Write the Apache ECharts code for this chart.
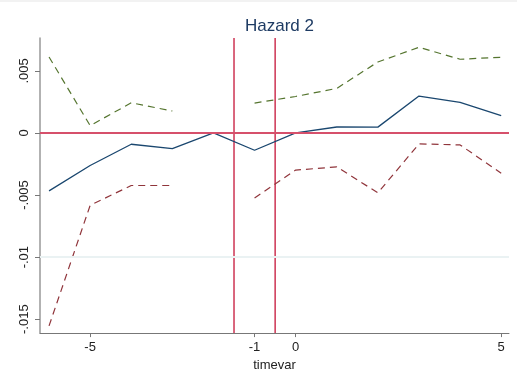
<!DOCTYPE html>
<html>
<head>
<meta charset="utf-8">
<script src="https://cdn.jsdelivr.net/npm/echarts@6/dist/echarts.min.js"></script>
<style>html,body{margin:0;padding:0;background:#fff;}#c{width:532px;height:377px;}</style>
</head>
<body>
<div id="c"></div>
<script>
const timevar = [-6, -5, -4, -3, -2, -1, 0, 1, 2, 3, 4, 5];
const estimate = [-0.00466, -0.00262, -0.00091, -0.00126, 0.0, -0.00139, 0.0, 0.00048, 0.00047, 0.00297, 0.00246, 0.00139];
const upperCI = [0.00612, 0.00059, 0.00243, 0.00177, null, 0.00241, 0.00294, 0.00359, 0.00572, 0.0069, 0.00594, 0.0061];
const lowerCI = [-0.01554, -0.00583, -0.00423, -0.00423, null, -0.00524, -0.00299, -0.00273, -0.00482, -0.00088, -0.00096, -0.00324];
const xTicks = [-5, -1, 0, 5];
const yTicks = [-0.015, -0.01, -0.005, 0, 0.005];
const yTickLabels = ['-.015', '-.01', '-.005', '0', '.005'];
const vLines = [-1.5, -0.5];
const title = 'Hazard 2';
const xName = 'timevar';

const yMin = -0.01612, yMax = 0.00765;
const pair = arr => timevar.map((t, i) => [t, arr[i]]);
const font = 'Liberation Sans, Arial, sans-serif';

const vSeries = vLines.map(v => ({
  type: 'line', data: [[v, yMin], [v, yMax]], symbol: 'none', silent: true,
  lineStyle: {color: '#c00028', width: 1.2, type: 'solid'}, z: 2
}));

const chart = echarts.init(document.getElementById('c'), null, {renderer: 'canvas'});
chart.setOption({
  backgroundColor: '#fff',
  animation: false,
  title: {
    text: title, left: 274.5, textAlign: 'center', top: 13,
    textStyle: {fontFamily: font, fontSize: 17, fontWeight: 'normal', color: '#1e3b63'}
  },
  grid: {left: 40, right: 23, top: 38, bottom: 43},
  xAxis: {
    type: 'value', min: -6.22, max: 5.19,
    name: xName, nameLocation: 'middle', nameGap: 23,
    nameTextStyle: {fontFamily: font, fontSize: 13, color: '#222'},
    axisLine: {show: true, onZero: false, lineStyle: {color: '#777', width: 1}},
    axisTick: {show: true, length: 4, customValues: xTicks, lineStyle: {color: '#777'}},
    axisLabel: {customValues: xTicks, fontFamily: font, fontSize: 13, color: '#222', margin: 8,
      formatter: v => String(v)},
    splitLine: {show: false}
  },
  yAxis: {
    type: 'value', min: yMin, max: yMax,
    axisLine: {show: true, onZero: false, lineStyle: {color: '#999', width: 1.5}},
    axisTick: {show: true, length: 5, customValues: yTicks, lineStyle: {color: '#777'}},
    axisLabel: {customValues: yTicks, rotate: 90, fontFamily: font, fontSize: 13, color: '#222', margin: 9,
      formatter: v => { const i = yTicks.findIndex(t => Math.abs(t - v) < 1e-9); return i >= 0 ? yTickLabels[i] : ''; }},
    splitLine: {show: false}
  },
  series: [
    {
      type: 'line', data: [], silent: true,
      markLine: {
        symbol: 'none', silent: true, label: {show: false},
        lineStyle: {color: '#eaf2f3', width: 1.5, type: 'solid'},
        data: yTicks.filter(t => t !== 0).map(t => ({yAxis: t}))
      },
      z: 1
    },
    {
      type: 'line', data: [], silent: true,
      markLine: {
        symbol: 'none', silent: true, label: {show: false},
        lineStyle: {color: '#d6506b', width: 1.8, type: 'solid'},
        data: [{yAxis: 0}]
      },
      z: 2
    },
    ...vSeries,
    {
      type: 'line', data: pair(upperCI), symbol: 'none', connectNulls: false,
      lineStyle: {color: '#55752f', width: 1.2, type: [7, 5]}, z: 3
    },
    {
      type: 'line', data: pair(lowerCI), symbol: 'none', connectNulls: false,
      lineStyle: {color: '#90353b', width: 1.2, type: [7, 5]}, z: 3
    },
    {
      type: 'line', data: pair(estimate), symbol: 'none',
      lineStyle: {color: '#1a476f', width: 1.3}, z: 4
    }
  ],
  graphic: [
    {type: 'line', shape: {x1: 0, y1: 1, x2: 517, y2: 1}, style: {stroke: '#eee', lineWidth: 1.5}, silent: true}
  ]
});
</script>
</body>
</html>
